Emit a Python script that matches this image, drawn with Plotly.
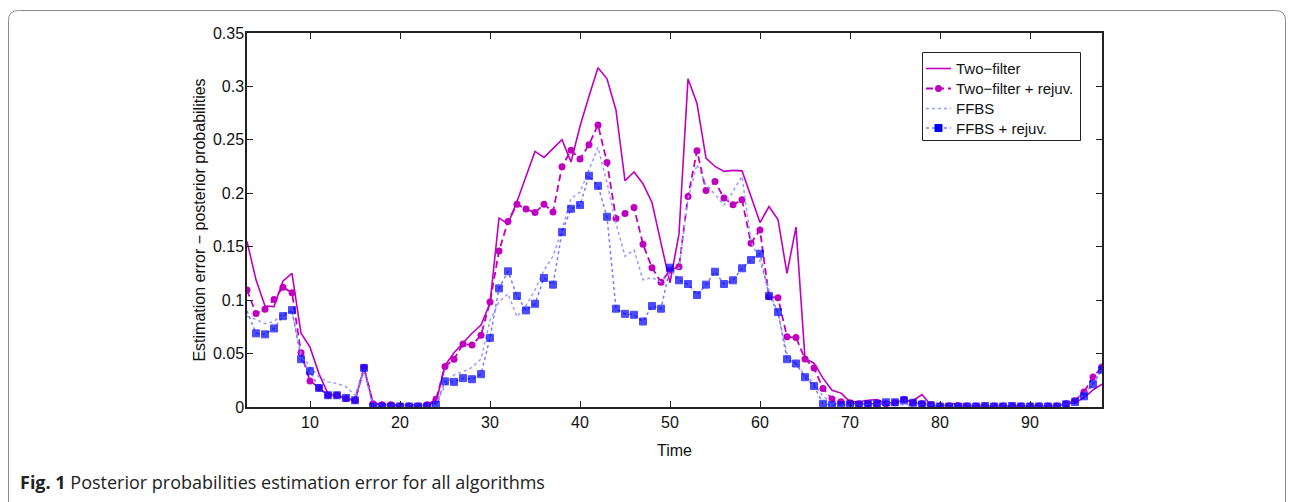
import plotly.graph_objects as go

# ---------------- data ----------------
time = list(range(3, 99))

two_filter = [
    0.155, 0.119, 0.0945, 0.094, 0.118, 0.125, 0.069, 0.056, 0.031, 0.0125,
    0.011, 0.008, 0.006, 0.036, 0.004, 0.0025, 0.002, 0.002, 0.002, 0.002,
    0.002, 0.004, 0.039, 0.0507, 0.0595, 0.069, 0.0766, 0.097, 0.1767, 0.1714,
    0.1923, 0.2167, 0.2392, 0.2336, 0.2417, 0.2502, 0.2293, 0.2627, 0.2908, 0.3174,
    0.3071, 0.2777, 0.2117, 0.2199, 0.2089, 0.1914, 0.1533, 0.1163, 0.162, 0.3071,
    0.284, 0.233, 0.2251, 0.2205, 0.2214, 0.221, 0.197, 0.1726, 0.1876, 0.1755,
    0.125, 0.1683, 0.0454, 0.041, 0.027, 0.0157, 0.013, 0.005, 0.0047, 0.0063,
    0.007, 0.0035, 0.0045, 0.0057, 0.006, 0.0116, 0.0016, 0.001, 0.002, 0.0035,
    0.0016, 0.001, 0.001, 0.001, 0.001, 0.001, 0.001, 0.001, 0.001, 0.001,
    0.001, 0.003, 0.004, 0.0085, 0.016, 0.0213,
]

two_filter_rejuv = [
    0.1095, 0.0876, 0.0914, 0.1007, 0.112, 0.107, 0.0507, 0.0244, 0.018, 0.011,
    0.011, 0.008, 0.0063, 0.037, 0.003, 0.002, 0.002, 0.001, 0.001, 0.001,
    0.002, 0.0072, 0.038, 0.0447, 0.059, 0.058, 0.0672, 0.0982, 0.146, 0.1735,
    0.1898, 0.1852, 0.182, 0.1898, 0.1825, 0.2249, 0.2402, 0.232, 0.2455, 0.264,
    0.2289, 0.1764, 0.181, 0.1867, 0.1523, 0.1304, 0.1167, 0.128, 0.1313, 0.197,
    0.2398, 0.2026, 0.211, 0.1955, 0.1892, 0.1939, 0.1533, 0.1657, 0.1032, 0.1022,
    0.0657, 0.065, 0.045, 0.0366, 0.0172, 0.0075, 0.005, 0.004, 0.003, 0.003,
    0.003, 0.003, 0.004, 0.007, 0.004, 0.003, 0.002, 0.001, 0.001, 0.001,
    0.001, 0.001, 0.001, 0.001, 0.001, 0.001, 0.001, 0.001, 0.001, 0.001,
    0.001, 0.003, 0.006, 0.014, 0.028, 0.0375,
]

ffbs = [
    0.085, 0.082, 0.078, 0.08, 0.0876, 0.089, 0.05, 0.0375, 0.028, 0.0235,
    0.022, 0.019, 0.011, 0.033, 0.003, 0.002, 0.002, 0.002, 0.002, 0.002,
    0.002, 0.003, 0.02, 0.03, 0.033, 0.037, 0.045, 0.081, 0.0985, 0.106,
    0.0844, 0.095, 0.1095, 0.128, 0.141, 0.166, 0.195, 0.201, 0.222, 0.243,
    0.21, 0.172, 0.141, 0.147, 0.119, 0.121, 0.117, 0.125, 0.13, 0.195,
    0.227, 0.208, 0.199, 0.189, 0.2017, 0.2158, 0.155, 0.136, 0.109, 0.0876,
    0.05, 0.04, 0.03, 0.022, 0.01, 0.004, 0.002, 0.002, 0.002, 0.002,
    0.002, 0.002, 0.002, 0.002, 0.002, 0.002, 0.002, 0.002, 0.002, 0.002,
    0.002, 0.002, 0.002, 0.002, 0.002, 0.002, 0.002, 0.002, 0.002, 0.002,
    0.002, 0.003, 0.008, 0.012, 0.022, 0.036,
]

ffbs_rejuv = [
    0.09, 0.0689, 0.068, 0.0735, 0.085, 0.0907, 0.0447, 0.0335, 0.0178, 0.011,
    0.011, 0.0085, 0.0063, 0.0366, 0.0005, 0.0005, 0.0005, 0.0005, 0.0005, 0.0005,
    0.0005, 0.002, 0.024, 0.0235, 0.027, 0.026, 0.0307, 0.0647, 0.111, 0.127,
    0.104, 0.0904, 0.0966, 0.1207, 0.1145, 0.1636, 0.1855, 0.189, 0.2164, 0.207,
    0.178, 0.092, 0.0872, 0.0863, 0.080, 0.0945, 0.092, 0.1304, 0.1186, 0.1151,
    0.1048, 0.1145, 0.1266, 0.1151, 0.1186, 0.1298, 0.1376, 0.1435, 0.104, 0.0888,
    0.0447, 0.0407, 0.0279, 0.0197, 0.003, 0.0017, 0.0017, 0.0025, 0.0022, 0.0025,
    0.003, 0.0044, 0.0044, 0.0063, 0.004, 0.0025, 0.0016, 0.0005, 0.0005, 0.0005,
    0.0005, 0.0005, 0.001, 0.0005, 0.0005, 0.001, 0.0005, 0.0005, 0.0005, 0.0005,
    0.0005, 0.0025, 0.0047, 0.01, 0.0213, 0.035,
]

series_names = ["Two\u2212filter", "Two\u2212filter + rejuv.", "FFBS", "FFBS + rejuv."]

x_ticks = [10, 20, 30, 40, 50, 60, 70, 80, 90]
y_ticks = [0, 0.05, 0.1, 0.15, 0.2, 0.25, 0.3, 0.35]
y_tick_labels = ["0", "0.05", "0.1", "0.15", "0.2", "0.25", "0.3", "0.35"]

# ---------------- figure ----------------
W, H = 1294, 502
ML, MR, MT, MB = 247, 192, 33, 95
PW, PH = W - ML - MR, H - MT - MB

MAG = "#bf00bf"
FFBS_C = "#9a9aff"
FFBSR_LINE = "#7a7aff"
BLUE = "#0000ff"
FONT = "Liberation Sans, Arial, sans-serif"

styles = [
    dict(mode="lines", line=dict(color=MAG, width=1.6)),
    dict(mode="lines+markers", line=dict(color=MAG, width=1.8, dash="7px,4px"),
         marker=dict(symbol="circle", size=7, color=MAG)),
    dict(mode="lines", line=dict(color=FFBS_C, width=1.5, dash="dot")),
    dict(mode="lines+markers", line=dict(color=FFBSR_LINE, width=1.5, dash="dot"),
         marker=dict(symbol="square", size=7, color=BLUE, line=dict(width=1, color=BLUE))),
]

fig = go.Figure()

series = [two_filter, two_filter_rejuv, ffbs, ffbs_rejuv]
for name, ys, st in zip(series_names, series, styles):
    st = dict(st)
    if name == "FFBS + rejuv.":
        mk = dict(st["marker"])
        mk["size"] = [0] + [7] * (len(time) - 1)
        st["marker"] = mk
    fig.add_trace(go.Scatter(x=time, y=ys, name=name, showlegend=False, **st))

# ---- legend drawn on a pixel-space overlay axis ----
box_x0, box_x1, box_y0, box_y1 = 922.5, 1080.5, 52.5, 140.5
fig.add_trace(go.Scatter(
    x=[box_x0, box_x1, box_x1, box_x0, box_x0],
    y=[box_y0, box_y0, box_y1, box_y1, box_y0],
    xaxis="x2", yaxis="y2", mode="lines", fill="toself", fillcolor="white",
    line=dict(color="#222", width=1), showlegend=False, hoverinfo="skip",
))
row_y = [68.5, 88.5, 108.5, 128]
sx0, sx1 = 926, 951
for name, ry, st in zip(series_names, row_y, styles):
    fig.add_trace(go.Scatter(
        x=[sx0, sx1], y=[ry, ry], xaxis="x2", yaxis="y2", mode="lines",
        line=st["line"], showlegend=False, hoverinfo="skip",
    ))
    if "marker" in st:
        fig.add_trace(go.Scatter(
            x=[(sx0 + sx1) / 2], y=[ry], xaxis="x2", yaxis="y2", mode="markers",
            marker=st["marker"], showlegend=False, hoverinfo="skip",
        ))
    fig.add_annotation(xref="x2", yref="y2", x=954, y=ry, xanchor="left", yanchor="middle",
                       text=name, showarrow=False,
                       font=dict(family=FONT, size=15, color="#111"))


def px2paper(px, py):
    return (px - ML) / PW, (H - MB - py) / PH


# rounded frame around the figure panel
def frame_path(x0, y0, x1, y1, r):
    def P(x, y):
        a, b = px2paper(x, y)
        return f"{a:.5f},{b:.5f}"
    return (f"M {P(x0 + r, y0)} L {P(x1 - r, y0)} Q {P(x1, y0)} {P(x1, y0 + r)} "
            f"L {P(x1, y1 - r)} Q {P(x1, y1)} {P(x1 - r, y1)} "
            f"L {P(x0 + r, y1)} Q {P(x0, y1)} {P(x0, y1 - r)} "
            f"L {P(x0, y0 + r)} Q {P(x0, y0)} {P(x0 + r, y0)} Z")


fig.add_shape(type="path", xref="paper", yref="paper",
              path=frame_path(8.5, 10.5, 1285.5, 540, 10),
              line=dict(color="#8c8c8c", width=1), fillcolor="rgba(0,0,0,0)",
              layer="below")

cx, cy = px2paper(18, 482)
fig.add_annotation(
    xref="paper", yref="paper", x=cx, y=cy, xanchor="left", yanchor="middle",
    text="<b>Fig. 1</b> Posterior probabilities estimation error for all algorithms",
    showarrow=False, font=dict(family="Open Sans, Noto Sans, sans-serif", size=18, color="#222"),
)

axis_common = dict(
    showline=True, linecolor="#222", linewidth=1.5, mirror="ticks",
    ticks="inside", ticklen=6, tickcolor="#222", tickwidth=1,
    showgrid=False, zeroline=False,
    tickfont=dict(family=FONT, size=16, color="#111"),
)

fig.update_layout(
    width=W, height=H, autosize=False,
    margin=dict(l=ML, r=MR, t=MT, b=MB),
    paper_bgcolor="white", plot_bgcolor="white",
    font=dict(family=FONT, size=15, color="#111"),
    xaxis=dict(range=[3, 98], tickvals=x_ticks,
               title=dict(text="Time", font=dict(family=FONT, size=16), standoff=15),
               **axis_common),
    yaxis=dict(range=[0, 0.35], tickvals=y_ticks, ticktext=y_tick_labels,
               title=dict(text="Estimation error \u2212 posterior probabilities",
                          font=dict(family=FONT, size=16), standoff=3),
               ticklabelstandoff=-2,
               **axis_common),
    xaxis2=dict(overlaying="x", range=[ML, W - MR], visible=False, fixedrange=True),
    yaxis2=dict(overlaying="y", range=[H - MB, MT], visible=False, fixedrange=True),
    showlegend=False,
)

fig.write_html("out.html", config={"displayModeBar": False},
               post_script="document.body.style.margin='0';document.body.style.overflow='hidden';")
